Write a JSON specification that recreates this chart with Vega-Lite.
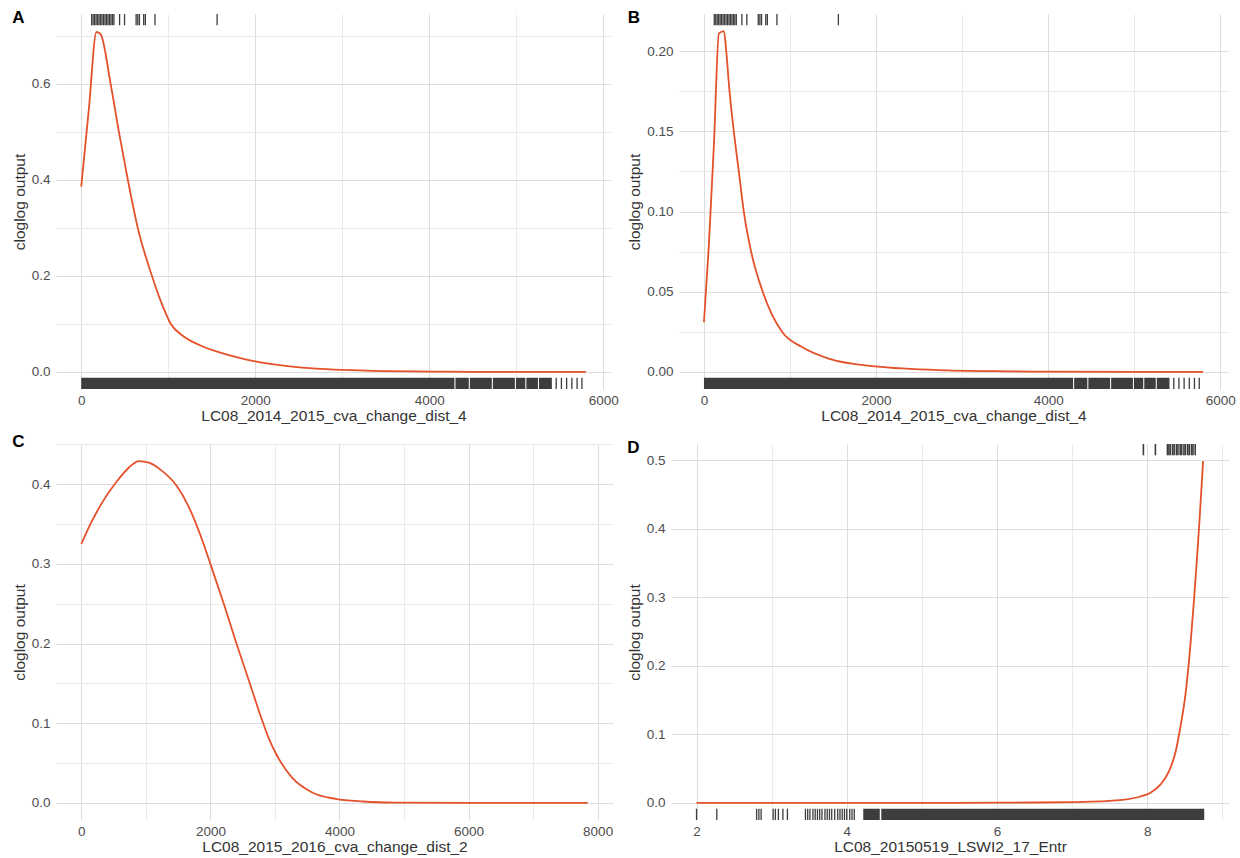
{
  "$schema": "https://vega.github.io/schema/vega-lite/v6.json",
  "background": "white",
  "padding": {"left": 12, "top": 9, "right": 2, "bottom": 2},
  "columns": 2,
  "spacing": {"column": 8, "row": 8},
  "align": {"row": "all", "column": "none"},
  "config": {
    "font": "Liberation Sans",
    "view": {"stroke": null},
    "axis": {
      "ticks": false, "domain": false, "grid": true,
      "labelFont": "Liberation Sans", "labelFontSize": 13.5, "labelColor": "#4D4D4D",
      "titleFont": "Liberation Sans", "titleFontSize": 15.5, "titleFontWeight": "normal", "titleColor": "#333333",
      "gridWidth": 1, "labelFlush": false, "labelOverlap": false
    },
    "axisX": {"labelPadding": 4, "titlePadding": 2},
    "axisY": {"labelPadding": 6, "titlePadding": 4},
    "title": {"fontSize": 17, "fontWeight": "bold", "color": "#000000", "anchor": "start", "frame": "bounds", "offset": -14, "baseline": "alphabetic", "font": "Liberation Sans"}
  },
  "datasets": {
    "curveA": [
      {"x": 0, "v": 0.386}, {"x": 88, "v": 0.548}, {"x": 175, "v": 0.708}, {"x": 224, "v": 0.703},
      {"x": 338, "v": 0.6}, {"x": 433, "v": 0.5}, {"x": 536, "v": 0.4}, {"x": 650, "v": 0.3},
      {"x": 813, "v": 0.2}, {"x": 916, "v": 0.147}, {"x": 1030, "v": 0.1}, {"x": 1163, "v": 0.076},
      {"x": 1372, "v": 0.055}, {"x": 1638, "v": 0.038}, {"x": 1999, "v": 0.022}, {"x": 2398, "v": 0.0117},
      {"x": 2702, "v": 0.0069}, {"x": 3000, "v": 0.0042}, {"x": 3500, "v": 0.0018}, {"x": 4000, "v": 0.0008},
      {"x": 4500, "v": 0.0003}, {"x": 5000, "v": 0.0001}, {"x": 5800, "v": 0.0}
    ],
    "curveB": [
      {"x": 0, "v": 0.031}, {"x": 58, "v": 0.08}, {"x": 116, "v": 0.142}, {"x": 174, "v": 0.211},
      {"x": 232, "v": 0.2125}, {"x": 259, "v": 0.2}, {"x": 297, "v": 0.175}, {"x": 347, "v": 0.15},
      {"x": 405, "v": 0.125}, {"x": 463, "v": 0.1}, {"x": 548, "v": 0.075}, {"x": 683, "v": 0.05},
      {"x": 907, "v": 0.025}, {"x": 1139, "v": 0.0155}, {"x": 1448, "v": 0.0083}, {"x": 1988, "v": 0.0035},
      {"x": 2838, "v": 0.001}, {"x": 3500, "v": 0.0004}, {"x": 4000, "v": 0.0002}, {"x": 5000, "v": 0.00005},
      {"x": 5800, "v": 0.0}
    ],
    "curveC": [
      {"x": 0, "v": 0.325}, {"x": 154, "v": 0.352}, {"x": 308, "v": 0.375}, {"x": 554, "v": 0.404},
      {"x": 738, "v": 0.421}, {"x": 892, "v": 0.429}, {"x": 1046, "v": 0.427}, {"x": 1231, "v": 0.418},
      {"x": 1477, "v": 0.398}, {"x": 1662, "v": 0.372}, {"x": 1846, "v": 0.336}, {"x": 2000, "v": 0.3},
      {"x": 2215, "v": 0.248}, {"x": 2400, "v": 0.201}, {"x": 2615, "v": 0.149}, {"x": 2800, "v": 0.104},
      {"x": 2900, "v": 0.082}, {"x": 3015, "v": 0.062}, {"x": 3262, "v": 0.032}, {"x": 3569, "v": 0.0134},
      {"x": 3938, "v": 0.005}, {"x": 4369, "v": 0.0017}, {"x": 4862, "v": 0.0004}, {"x": 6000, "v": 0.0},
      {"x": 7846, "v": 0.0}
    ],
    "curveD": [
      {"x": 2, "v": 0}, {"x": 3, "v": 0}, {"x": 4, "v": 0}, {"x": 5, "v": 0.0001}, {"x": 6, "v": 0.0003},
      {"x": 6.5, "v": 0.0006}, {"x": 7, "v": 0.0012}, {"x": 7.25, "v": 0.0018}, {"x": 7.5, "v": 0.003},
      {"x": 7.7, "v": 0.0048}, {"x": 7.9, "v": 0.009}, {"x": 8.04, "v": 0.0146}, {"x": 8.18, "v": 0.027},
      {"x": 8.29, "v": 0.046}, {"x": 8.38, "v": 0.075}, {"x": 8.44, "v": 0.109}, {"x": 8.51, "v": 0.158},
      {"x": 8.58, "v": 0.235}, {"x": 8.63, "v": 0.305}, {"x": 8.675, "v": 0.375}, {"x": 8.71, "v": 0.435},
      {"x": 8.745, "v": 0.499}
    ],
    "rugTopDist4": [
      {"x": 120}, {"x": 137}, {"x": 154}, {"x": 171}, {"x": 188}, {"x": 205}, {"x": 222}, {"x": 239},
      {"x": 257}, {"x": 274}, {"x": 291}, {"x": 308}, {"x": 325}, {"x": 342}, {"x": 359}, {"x": 376},
      {"x": 441}, {"x": 498}, {"x": 631}, {"x": 650}, {"x": 669}, {"x": 718}, {"x": 737}, {"x": 848},
      {"x": 1562}
    ],
    "rugBotDist4": [
      {"x": 5460}, {"x": 5520}, {"x": 5580}, {"x": 5640}, {"x": 5700}, {"x": 5756}
    ],
    "bandDist4": [
      {"x": 0, "x2": 4290}, {"x": 4302, "x2": 4455}, {"x": 4467, "x2": 4720}, {"x": 4732, "x2": 4985},
      {"x": 4997, "x2": 5105}, {"x": 5117, "x2": 5250}, {"x": 5262, "x2": 5410}
    ],
    "rugTopD": [
      {"x": 7.95}, {"x": 8.11}, {"x": 8.27}, {"x": 8.29}, {"x": 8.31}, {"x": 8.34}, {"x": 8.36}, {"x": 8.39},
      {"x": 8.41}, {"x": 8.44}, {"x": 8.46}, {"x": 8.49}, {"x": 8.51}, {"x": 8.54}, {"x": 8.56}, {"x": 8.59},
      {"x": 8.61}, {"x": 8.64}
    ],
    "rugBotD": [
      {"x": 2.0}, {"x": 2.27}, {"x": 2.8}, {"x": 2.83}, {"x": 2.86}, {"x": 3.02}, {"x": 3.05}, {"x": 3.09},
      {"x": 3.15}, {"x": 3.21}, {"x": 3.45}, {"x": 3.48}, {"x": 3.51}, {"x": 3.55}, {"x": 3.58}, {"x": 3.61},
      {"x": 3.64}, {"x": 3.67}, {"x": 3.71}, {"x": 3.74}, {"x": 3.77}, {"x": 3.8}, {"x": 3.84}, {"x": 3.88},
      {"x": 3.91}, {"x": 3.94}, {"x": 3.97}, {"x": 4.0}, {"x": 4.04}, {"x": 4.07}, {"x": 4.1}
    ],
    "bandD": [
      {"x": 4.22, "x2": 4.44}, {"x": 4.46, "x2": 8.76}
    ]
  },
  "concat": [
    {
      "title": "A",
      "width": 555, "height": 375,
      "encoding": {
        "x": {"field": "x", "type": "quantitative",
          "scale": {"domain": [-290, 6090], "nice": false, "zero": false},
          "axis": {"title": "LC08_2014_2015_cva_change_dist_4", "values": [0, 1000, 2000, 3000, 4000, 5000, 6000], "format": "d",
            "labelExpr": "round(datum.value/1000) % 2 === 0 ? datum.label : ''",
            "gridColor": {"condition": {"test": "round(datum.value/1000) % 2 === 0", "value": "#DDDDDD"}, "value": "#EAEAEA"}}}
      },
      "layer": [
        {"data": {"name": "curveA"}, "mark": {"type": "line", "color": "#E4512B", "strokeWidth": 1.8, "interpolate": "monotone"},
          "encoding": {"y": {"field": "v", "type": "quantitative",
            "scale": {"domain": [-0.0355, 0.7455], "nice": false, "zero": false},
            "axis": {"title": "cloglog output", "grid": true, "values": [0, 0.1, 0.2, 0.3, 0.4, 0.5, 0.6, 0.7], "format": ".1f",
              "labelExpr": "round(datum.value*10) % 2 === 0 ? datum.label : ''",
              "gridColor": {"condition": {"test": "round(datum.value*10) % 2 === 0", "value": "#DDDDDD"}, "value": "#EAEAEA"}}}}},
        {"data": {"name": "bandDist4"}, "mark": {"type": "rect", "color": "#3d3d3d"},
          "encoding": {"x2": {"field": "x2"}, "y": {"datum": -0.0355, "type": "quantitative"}, "y2": {"datum": -0.0121}}},
        {"data": {"name": "rugBotDist4"}, "mark": {"type": "rule", "color": "#3d3d3d", "strokeWidth": 1.3},
          "encoding": {"y": {"datum": -0.0355, "type": "quantitative"}, "y2": {"datum": -0.0121}}},
        {"data": {"name": "rugTopDist4"}, "mark": {"type": "rule", "color": "#3d3d3d", "strokeWidth": 1.3},
          "encoding": {"y": {"datum": 0.7221, "type": "quantitative"}, "y2": {"datum": 0.7455}}}
      ]
    },
    {
      "title": "B",
      "width": 549, "height": 375,
      "encoding": {
        "x": {"field": "x", "type": "quantitative",
          "scale": {"domain": [-290, 6090], "nice": false, "zero": false},
          "axis": {"title": "LC08_2014_2015_cva_change_dist_4", "values": [0, 1000, 2000, 3000, 4000, 5000, 6000], "format": "d",
            "labelExpr": "round(datum.value/1000) % 2 === 0 ? datum.label : ''",
            "gridColor": {"condition": {"test": "round(datum.value/1000) % 2 === 0", "value": "#DDDDDD"}, "value": "#EAEAEA"}}}
      },
      "layer": [
        {"data": {"name": "curveB"}, "mark": {"type": "line", "color": "#E4512B", "strokeWidth": 1.8, "interpolate": "monotone"},
          "encoding": {"y": {"field": "v", "type": "quantitative",
            "scale": {"domain": [-0.010625, 0.223125], "nice": false, "zero": false},
            "axis": {"title": "cloglog output", "grid": true, "values": [0, 0.025, 0.05, 0.075, 0.1, 0.125, 0.15, 0.175, 0.2], "format": ".2f",
              "labelExpr": "round(datum.value*40) % 2 === 0 ? datum.label : ''",
              "gridColor": {"condition": {"test": "round(datum.value*40) % 2 === 0", "value": "#DDDDDD"}, "value": "#EAEAEA"}}}}},
        {"data": {"name": "bandDist4"}, "mark": {"type": "rect", "color": "#3d3d3d"},
          "encoding": {"x2": {"field": "x2"}, "y": {"datum": -0.010625, "type": "quantitative"}, "y2": {"datum": -0.003613}}},
        {"data": {"name": "rugBotDist4"}, "mark": {"type": "rule", "color": "#3d3d3d", "strokeWidth": 1.3},
          "encoding": {"y": {"datum": -0.010625, "type": "quantitative"}, "y2": {"datum": -0.003613}}},
        {"data": {"name": "rugTopDist4"}, "mark": {"type": "rule", "color": "#3d3d3d", "strokeWidth": 1.3},
          "encoding": {"y": {"datum": 0.216112, "type": "quantitative"}, "y2": {"datum": 0.223125}}}
      ]
    },
    {
      "title": "C",
      "width": 557, "height": 376,
      "encoding": {
        "x": {"field": "x", "type": "quantitative",
          "scale": {"domain": [-392.3, 8238.3], "nice": false, "zero": false},
          "axis": {"title": "LC08_2015_2016_cva_change_dist_2", "values": [0, 1000, 2000, 3000, 4000, 5000, 6000, 7000, 8000], "format": "d",
            "labelExpr": "round(datum.value/1000) % 2 === 0 ? datum.label : ''",
            "gridColor": {"condition": {"test": "round(datum.value/1000) % 2 === 0", "value": "#DDDDDD"}, "value": "#EAEAEA"}}}
      },
      "layer": [
        {"data": {"name": "curveC"}, "mark": {"type": "line", "color": "#E4512B", "strokeWidth": 1.8, "interpolate": "monotone"},
          "encoding": {"y": {"field": "v", "type": "quantitative",
            "scale": {"domain": [-0.0215, 0.4505], "nice": false, "zero": false},
            "axis": {"title": "cloglog output", "grid": true, "values": [0, 0.05, 0.1, 0.15, 0.2, 0.25, 0.3, 0.35, 0.4, 0.45], "format": ".1f",
              "labelExpr": "round(datum.value*20) % 2 === 0 ? datum.label : ''",
              "gridColor": {"condition": {"test": "round(datum.value*20) % 2 === 0", "value": "#DDDDDD"}, "value": "#EAEAEA"}}}}}
      ]
    },
    {
      "title": "D",
      "width": 558, "height": 376,
      "encoding": {
        "x": {"field": "x", "type": "quantitative",
          "scale": {"domain": [1.66, 9.09], "nice": false, "zero": false},
          "axis": {"title": "LC08_20150519_LSWI2_17_Entr", "values": [2, 3, 4, 5, 6, 7, 8, 9], "format": "d",
            "labelExpr": "round(datum.value) % 2 === 0 ? datum.label : ''",
            "gridColor": {"condition": {"test": "round(datum.value) % 2 === 0", "value": "#DDDDDD"}, "value": "#EAEAEA"}}}
      },
      "layer": [
        {"data": {"name": "curveD"}, "mark": {"type": "line", "color": "#E4512B", "strokeWidth": 1.8, "interpolate": "monotone"},
          "encoding": {"y": {"field": "v", "type": "quantitative",
            "scale": {"domain": [-0.02495, 0.52395], "nice": false, "zero": false},
            "axis": {"title": "cloglog output", "grid": true, "values": [0, 0.05, 0.1, 0.15, 0.2, 0.25, 0.3, 0.35, 0.4, 0.45, 0.5], "format": ".1f",
              "labelExpr": "round(datum.value*20) % 2 === 0 ? datum.label : ''",
              "gridColor": {"condition": {"test": "round(datum.value*20) % 2 === 0", "value": "#DDDDDD"}, "value": "#EAEAEA"}}}}},
        {"data": {"name": "bandD"}, "mark": {"type": "rect", "color": "#3d3d3d"},
          "encoding": {"x2": {"field": "x2"}, "y": {"datum": -0.02495, "type": "quantitative"}, "y2": {"datum": -0.00848}}},
        {"data": {"name": "rugBotD"}, "mark": {"type": "rule", "color": "#3d3d3d", "strokeWidth": 1.3},
          "encoding": {"y": {"datum": -0.02495, "type": "quantitative"}, "y2": {"datum": -0.00848}}},
        {"data": {"name": "rugTopD"}, "mark": {"type": "rule", "color": "#3d3d3d", "strokeWidth": 1.6},
          "encoding": {"y": {"datum": 0.50748, "type": "quantitative"}, "y2": {"datum": 0.52395}}}
      ]
    }
  ]
}
